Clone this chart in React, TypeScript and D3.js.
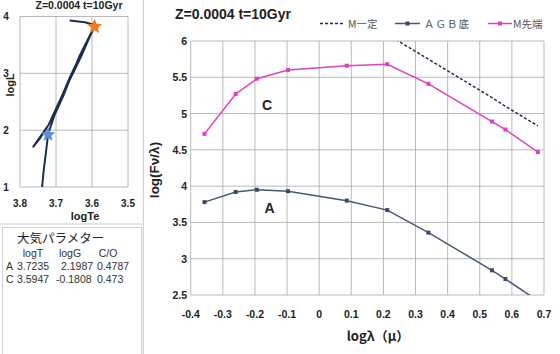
import React from "react";
import * as d3 from "d3";

// ---- main chart data ----
const bandLogLambda = [-0.357, -0.26, -0.194, -0.097, 0.086, 0.212, 0.34, 0.538, 0.58, 0.681];
const tipValues = [4.72, 5.27, 5.48, 5.6, 5.66, 5.68, 5.41, 4.89, 4.78, 4.47]; // M先端
const agbValues = [3.78, 3.92, 3.95, 3.93, 3.8, 3.67, 3.36, 2.84, 2.72, 2.42]; // AGB底
const constLogLambda = [0.212, 0.34, 0.538, 0.58, 0.681];
const constValues = [6.09, 5.75, 5.22, 5.1, 4.83]; // M一定
const xTicks = [-0.4, -0.3, -0.2, -0.1, 0, 0.1, 0.2, 0.3, 0.4, 0.5, 0.6, 0.7];
const yTicks = [2.5, 3, 3.5, 4, 4.5, 5, 5.5, 6];
const legendLabels = ["M一定", "ＡＧＢ底", "M先端"];

// ---- HR diagram data ----
const trackLogTe = [3.74, 3.734, 3.728, 3.722, 3.705, 3.68, 3.655, 3.635, 3.615, 3.597,
  3.63, 3.68, 3.72, 3.763, 3.745, 3.72, 3.69, 3.66, 3.63, 3.6, 3.592, 3.62, 3.662];
const trackLogL = [0.9, 1.3, 1.6, 1.93, 2.25, 2.6, 3.0, 3.3, 3.55, 3.78,
  3.3, 2.65, 2.1, 1.71, 1.85, 2.1, 2.5, 2.95, 3.35, 3.72, 3.85, 3.9, 3.93];
const hrXTicks = [3.8, 3.7, 3.6, 3.5];
const hrYTicks = [1, 2, 3, 4];
const starC = [3.593, 3.82];
const starA = [3.722, 1.92];

// ---- parameter table ----
const paramHeader = ["logT", "logG", "C/O"];
const paramRowA = ["A", "3.7235", "2.1987", "0.4787"];
const paramRowC = ["C", "3.5947", "-0.1808", "0.473"];

const FONT = "'Liberation Sans', Arial, sans-serif";
const JFONT = "'Noto Sans CJK JP', 'Liberation Sans', sans-serif";

function starPath(cx: number, cy: number, R: number, r: number) {
  const pts: [number, number][] = [];
  for (let i = 0; i < 10; i++) {
    const a = -Math.PI / 2 + (i * Math.PI) / 5;
    const rad = i % 2 === 0 ? R : r;
    pts.push([cx + rad * Math.cos(a), cy + rad * Math.sin(a)]);
  }
  return "M" + pts.map((p) => p.join(",")).join("L") + "Z";
}

export default function App() {
  const W = 560, H = 354;
  // main scales
  const x = d3.scaleLinear().domain([-0.4, 0.7]).range([190.7, 544]);
  const y = d3.scaleLinear().domain([2.5, 6]).range([295, 41]);
  const line = d3.line<[number, number]>().x((d) => x(d[0])).y((d) => y(d[1]));
  const tipPts = bandLogLambda.map((v, i) => [v, tipValues[i]] as [number, number]);
  const agbPts = bandLogLambda.map((v, i) => [v, agbValues[i]] as [number, number]);
  const constPts = constLogLambda.map((v, i) => [v, constValues[i]] as [number, number]);

  // HR scales
  const hx = d3.scaleLinear().domain([3.8, 3.5]).range([20, 128]);
  const hy = d3.scaleLinear().domain([1, 4]).range([187, 16.5]);
  const hline = d3.line<[number, number]>().x((d) => hx(d[0])).y((d) => hy(d[1]));
  const trackPts = trackLogTe.map((v, i) => [v, trackLogL[i]] as [number, number]);

  const magenta = "#E040C0";
  const agbColor = "#44597A";
  const navy = "#1C2E50";
  const grid = "#A8A8A8";

  return (
    <svg width={W} height={H} style={{ position: "absolute", left: 0, top: 0, background: "#fff" }}>
      <defs>
        <clipPath id="mainClip">
          <rect x={190.7} y={41} width={353.3} height={254} />
        </clipPath>
        <clipPath id="hrClip">
          <rect x={20} y={16.5} width={108} height={170.5} />
        </clipPath>
      </defs>
      <rect x={0} y={0} width={W} height={H} fill="#fff" />

      {/* panel borders */}
      <line x1={143.3} y1={0} x2={143.3} y2={H} stroke="#C8C8C8" />
      <line x1={0} y1={224} x2={142.3} y2={224} stroke="#C8C8C8" />
      <rect x={2.5} y={227.5} width={139} height={130} fill="none" stroke="#D0D0D0" />

      {/* ===== HR diagram ===== */}
      <text x={79} y={9} fontFamily={FONT} fontWeight="bold" fontSize={10.5} textAnchor="middle" fill="#222">
        Z=0.0004 t=10Gyr
      </text>
      {hrXTicks.map((t) => (
        <line key={"hx" + t} x1={hx(t)} x2={hx(t)} y1={16.5} y2={187} stroke={grid} strokeWidth={0.8} />
      ))}
      {hrYTicks.map((t) => (
        <line key={"hy" + t} x1={20} x2={128} y1={hy(t)} y2={hy(t)} stroke={grid} strokeWidth={0.8} />
      ))}
      <path d={hline(trackPts) || ""} fill="none" stroke={navy} strokeWidth={2} strokeLinejoin="round" clipPath="url(#hrClip)" />
      <path d={starPath(hx(starC[0]), hy(starC[1]), 8, 3.6)} fill="#F07A22" />
      <path d={starPath(hx(starA[0]), hy(starA[1]), 7.5, 3.4)} fill="#5B8ED6" />
      {hrYTicks.map((t) => (
        <text key={"hyl" + t} x={6} y={hy(t) + 3.5} fontFamily={FONT} fontWeight="bold" fontSize={10} textAnchor="middle" fill="#222">
          {t}
        </text>
      ))}
      {hrXTicks.map((t) => (
        <text key={"hxl" + t} x={hx(t)} y={207} fontFamily={FONT} fontWeight="bold" fontSize={10} textAnchor="middle" fill="#222">
          {t}
        </text>
      ))}
      <text x={85} y={220} fontFamily={FONT} fontWeight="bold" fontSize={11} textAnchor="middle" fill="#222">
        logTe
      </text>
      <text transform="translate(14,85) rotate(-90)" fontFamily={FONT} fontWeight="bold" fontSize={11} textAnchor="middle" fill="#222">
        logL
      </text>

      {/* ===== parameter box ===== */}
      <text x={17} y={243} fontFamily={JFONT} fontSize={12.5} fill="#222">大気パラメター</text>
      {paramHeader.map((h, i) => (
        <text key={h} x={[33, 70, 108][i]} y={257} fontFamily={FONT} fontSize={10.5} textAnchor="middle" fill="#333">
          {h}
        </text>
      ))}
      {[paramRowA, paramRowC].map((row, r) => (
        <g key={row[0]}>
          {row.map((c, i) => (
            <text key={i} x={[6, 17, i === 2 && r === 1 ? 56 : 61, 97][i]} y={270 + r * 13} fontFamily={FONT} fontSize={10.5} fill="#333">
              {c}
            </text>
          ))}
        </g>
      ))}

      {/* ===== main chart ===== */}
      <text x={175} y={19} fontFamily={FONT} fontWeight="bold" fontSize={14} fill="#222">
        Z=0.0004  t=10Gyr
      </text>
      {/* legend */}
      <line x1={320} x2={345} y1={23.5} y2={23.5} stroke={navy} strokeWidth={1.5} strokeDasharray="3,2" />
      <text x={348} y={27.5} fontFamily={JFONT} fontSize={10.5} fill="#555">{legendLabels[0]}</text>
      <line x1={395} x2={420} y1={23.5} y2={23.5} stroke={agbColor} strokeWidth={1.5} />
      <rect x={405.5} y={21.5} width={4} height={4} fill="#404864" />
      <text x={424} y={27.5} fontFamily={JFONT} fontSize={10.5} fill="#555" letterSpacing={1}>{legendLabels[1]}</text>
      <line x1={488} x2={512} y1={23.5} y2={23.5} stroke={magenta} strokeWidth={1.5} />
      <rect x={498} y={21.5} width={4} height={4} fill={magenta} />
      <text x={513} y={27.5} fontFamily={JFONT} fontSize={10.5} fill="#555">{legendLabels[2]}</text>

      {/* grid */}
      {xTicks.map((t) => (
        <line key={"gx" + t} x1={x(t)} x2={x(t)} y1={41} y2={295} stroke={grid} strokeWidth={0.8} />
      ))}
      {yTicks.map((t) => (
        <line key={"gy" + t} x1={190.7} x2={544} y1={y(t)} y2={y(t)} stroke={grid} strokeWidth={0.8} />
      ))}

      <g clipPath="url(#mainClip)">
        <path d={line(constPts) || ""} fill="none" stroke={navy} strokeWidth={1.5} strokeDasharray="3,2" />
        <path d={line(agbPts) || ""} fill="none" stroke={agbColor} strokeWidth={1.5} />
        <path d={line(tipPts) || ""} fill="none" stroke={magenta} strokeWidth={1.5} />
        {agbPts.map((p, i) => (
          <rect key={"a" + i} x={x(p[0]) - 2} y={y(p[1]) - 2} width={4} height={4} fill="#404864" />
        ))}
        {tipPts.map((p, i) => (
          <rect key={"t" + i} x={x(p[0]) - 2} y={y(p[1]) - 2} width={4} height={4} fill={magenta} />
        ))}
      </g>

      {/* tick labels */}
      {yTicks.map((t) => (
        <text key={"yl" + t} x={187} y={y(t) + 4} fontFamily={FONT} fontWeight="bold" fontSize={10.5} textAnchor="end" fill="#222">
          {t}
        </text>
      ))}
      {xTicks.map((t) => (
        <text key={"xl" + t} x={x(t)} y={318} fontFamily={FONT} fontWeight="bold" fontSize={10.5} textAnchor="middle" fill="#222">
          {t}
        </text>
      ))}
      <text x={378} y={341} fontFamily={JFONT} fontWeight="bold" fontSize={13} textAnchor="middle" fill="#222">
        logλ（μ）
      </text>
      <text transform="translate(159,170) rotate(-90)" fontFamily={FONT} fontWeight="bold" fontSize={13.5} textAnchor="middle" fill="#222">
        log(Fν/λ)
      </text>

      {/* annotations */}
      <text x={267} y={110} fontFamily={FONT} fontWeight="bold" fontSize={14} textAnchor="middle" fill="#222">C</text>
      <text x={269.5} y={213} fontFamily={FONT} fontWeight="bold" fontSize={14} textAnchor="middle" fill="#222">A</text>
    </svg>
  );
}
